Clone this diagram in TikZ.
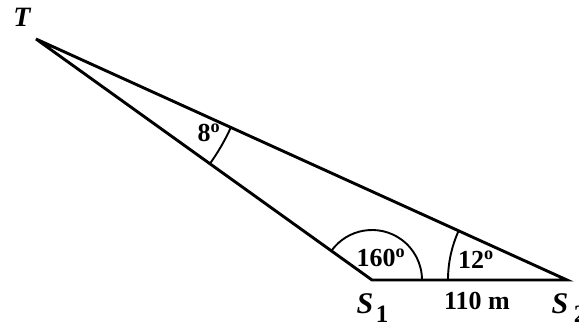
\documentclass[tikz,border=0pt]{standalone}
\usepackage{fontspec}
\setmainfont{Liberation Serif}
\newcommand{\dg}{\textsuperscript{o}}
\begin{document}
\begin{tikzpicture}[x=1pt,y=1pt,
  side/.style={line width=2.9pt, line join=miter},
  anglearc/.style={line width=1.9pt},
  lbl/.style={font=\fontsize{26}{28}\selectfont\bfseries, inner sep=0pt},
  sub/.style={font=\fontsize{25}{27}\selectfont\bfseries, inner sep=0pt},
  vlbl/.style={font=\fontsize{30}{32}\selectfont\bfseries\itshape, inner sep=0pt}]
\useasboundingbox (0,0) rectangle (579,328);
\coordinate (T) at (36,289);
\coordinate (S1) at (372,48);
\coordinate (S2) at (567,48);
\draw[side] (S1) -- (T) -- (S2) -- cycle;
% angle arcs
\draw[anglearc] ([shift={(144.35:50pt)}]S1) arc[start angle=144.35, end angle=0, radius=50pt];
\draw[anglearc] ([shift={(180:119pt)}]S2) arc[start angle=180, end angle=155.59, radius=119pt];
\draw[anglearc] ([shift={(-35.65:214pt)}]T) arc[start angle=-35.65, end angle=-24.41, radius=214pt];
% labels
\node[lbl] (a8) at (209,195) {8\dg};
\node[lbl] (a160) at (381,70.5) {160\dg};
\node[lbl] (a12) at (476,68) {12\dg};
\node[lbl] (d) at (477,27) {110 m};
\node[vlbl, font=\fontsize{28}{30}\selectfont\bfseries\itshape] (lT) at (22,310.5) {T};
\node[vlbl] (lS1) at (365,24) {S};
\node[sub] (lS1s) at (382,14) {1};
\node[vlbl] (lS2) at (560,24) {S};
\node[sub] (lS2s) at (580,14) {2};
\end{tikzpicture}
\end{document}
